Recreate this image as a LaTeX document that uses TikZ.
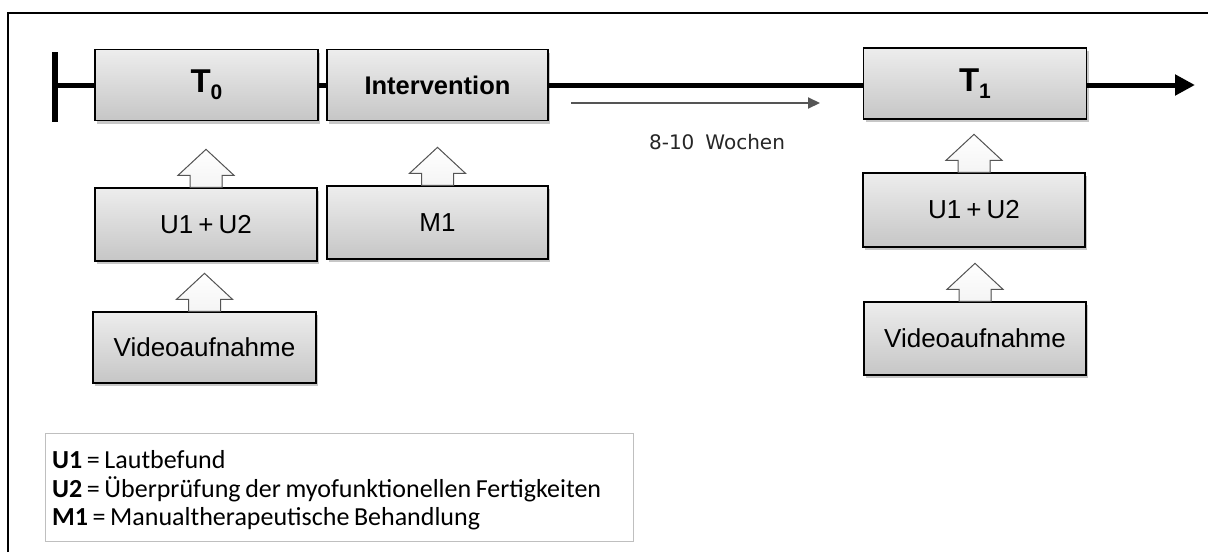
\documentclass[tikz,border=0pt]{standalone}
\usepackage{fontspec}
\setmainfont{Liberation Sans}
\newfontfamily\legfont{Carlito}
\newfontfamily\verdfont{DejaVu Sans}
\usetikzlibrary{arrows.meta,shadows,calc}
\definecolor{boxtop}{HTML}{EDEDED}
\definecolor{boxbot}{HTML}{C6C6C6}
\definecolor{arrline}{HTML}{555555}
\tikzset{
  phase/.style={draw=black, line width=1.3pt, top color=boxtop, bottom color=boxbot,
    minimum width=223pt, minimum height=71pt, inner sep=0pt, font=\fontsize{26}{30}\selectfont,
    drop shadow={shadow xshift=2pt, shadow yshift=-3pt, opacity=0.22, fill=black}},
  blockarr/.style={draw=arrline, line width=1pt, top color=white, bottom color=boxtop!60!white},
}
\newcommand{\uparr}[1]{%
  \filldraw[blockarr] ($(#1.north)+(-16,0)$) -- ++(0,-12) -- ++(-12,0) -- ($(#1.north)+(0,-38)$)
    -- ($(#1.north)+(28,-12)$) -- ++(-12,0) -- ($(#1.north)+(16,0)$) -- cycle;}
\newcommand{\uu}{U1\hspace{5pt}+\hspace{5pt}U2}
\begin{document}
\begin{tikzpicture}[x=1pt,y=-1pt]
\useasboundingbox (0,0) rectangle (1208,552);
\fill[white] (0,0) rectangle (1208,552);
% frame
\draw[line width=2pt] (8,552) -- (8,13) -- (1208,13);
% timeline
\coordinate (tstart) at (55,85);
\coordinate (tend) at (1195,85);
\draw[line width=6pt] (55,52) -- (55,122);
\draw[line width=5pt, -{Triangle[length=20pt,width=20pt]}] (tstart) -- (tend);
% phase boxes
\node[phase] (t0) at (206.5,85) {\fontsize{33}{33}\selectfont\bfseries T\raisebox{-7pt}{\fontsize{21}{21}\selectfont 0}};
\node[phase, minimum width=221pt] (int) at (437.5,85) {\fontsize{25.5}{28}\selectfont\bfseries Intervention};
\node[phase] (t1) at (975,83.5) {\fontsize{33}{33}\selectfont\bfseries T\raisebox{-7pt}{\fontsize{21}{21}\selectfont 1}};
% sub boxes
\node[phase, minimum width=222pt, minimum height=73pt] (u1l) at (206,224.5) {\uu};
\node[phase] (vidl) at (204.5,347.5) {Videoaufnahme};
\node[phase, minimum width=221pt, minimum height=73pt] (m1) at (437.5,222.5) {M1};
\node[phase, minimum width=222pt, minimum height=74pt] (u1r) at (974,210) {\uu};
\node[phase, minimum width=222pt, minimum height=73pt] (vidr) at (975,338.5) {Videoaufnahme};
% block arrows
\uparr{u1l}
\uparr{vidl}
\uparr{m1}
\uparr{u1r}
\uparr{vidr}
% duration arrow
\coordinate (da) at (571,103);
\coordinate (db) at (820,103);
\draw[arrline, line width=2pt, -{Triangle[length=12pt,width=11pt]}] (da) -- (db);
\node[font=\verdfont\fontsize{20}{24}\selectfont, text=black!85] (dur) at (717,142) {8-10\hspace{11pt}Wochen};
% legend
\node[draw=black!25, line width=1pt, anchor=north west, minimum width=588pt, minimum height=108pt,
  inner sep=0pt] (leg) at (45,433) {};
\node[anchor=west, text width=580pt, align=left, inner sep=0pt,
  font=\legfont\fontsize{26}{28.5}\selectfont] (legtext) at ($(leg.west)+(7,3)$)
  {\spaceskip=4.6pt plus 1pt minus 1pt
   \textbf{U1} = Lautbefund\\
   \textbf{U2} = Überprüfung der myofunktionellen Fertigkeiten\\
   \textbf{M1} = Manualtherapeutische Behandlung};
\end{tikzpicture}
\end{document}
